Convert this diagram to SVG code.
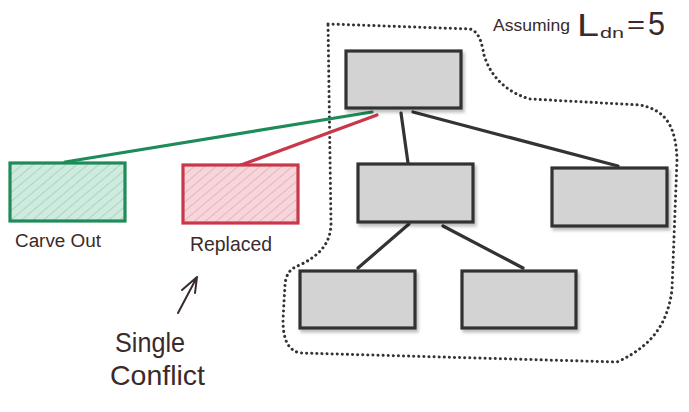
<svg xmlns="http://www.w3.org/2000/svg" width="689" height="412" viewBox="0 0 689 412">
<defs>
<pattern id="hatchG" patternUnits="userSpaceOnUse" width="7" height="7" patternTransform="rotate(50)">
<rect width="7" height="7" fill="#cfeade"/>
<line x1="0" y1="0" x2="0" y2="7" stroke="#98cfb5" stroke-width="1.4"/>
</pattern>
<pattern id="hatchR" patternUnits="userSpaceOnUse" width="7" height="7" patternTransform="rotate(50)">
<rect width="7" height="7" fill="#f6d6da"/>
<line x1="0" y1="0" x2="0" y2="7" stroke="#e6a4ad" stroke-width="1.4"/>
</pattern>
<filter id="sh" x="-10%" y="-10%" width="130%" height="140%">
<feDropShadow dx="2" dy="3" stdDeviation="1.5" flood-color="#000" flood-opacity="0.25"/>
</filter>
</defs>
<style>
.box{fill:#d4d3d4;stroke:#333;stroke-width:3.2;filter:url(#sh)}
.edge{stroke:#333;stroke-width:3.2;fill:none;stroke-linecap:round}
.hand{font-family:"Liberation Sans Narrow","Liberation Sans",sans-serif;fill:#3b2a2c}
</style>
<rect width="689" height="412" fill="#fff"/>
<path d="M328,24 L470,29 C480,32 482,45 484,55 C490,75 505,92 530,99 L640,105 C665,110 676,125 677,160 L672,290 C668,320 655,345 617,362 L300,353 C288,350 283,340 283,320 L285,285 C286,272 292,268 300,265 C318,256 330,245 331,225 Z" fill="none" stroke="#333" stroke-width="3" stroke-dasharray="0.1 5" stroke-linecap="round"/>
<g id="connectors">
<line x1="65" y1="162" x2="372" y2="112" stroke="#1e8c58" stroke-width="3.2" stroke-linecap="round"/>
<line x1="241" y1="165" x2="377" y2="115" stroke="#c8384a" stroke-width="3.2" stroke-linecap="round"/>
<line class="edge" x1="401" y1="113" x2="408" y2="163"/>
<line class="edge" x1="413" y1="112" x2="618" y2="166"/>
<line class="edge" x1="409" y1="224" x2="358" y2="268"/>
<line class="edge" x1="443" y1="226" x2="523" y2="268"/>
</g>
<g id="n-top"><rect class="box" x="346" y="51" width="115" height="57"/></g>
<g id="n-mid"><rect class="box" x="358" y="164" width="115" height="58"/></g>
<g id="n-right"><rect class="box" x="552" y="168" width="115" height="58"/></g>
<g id="n-botleft"><rect class="box" x="300" y="271" width="115" height="57"/></g>
<g id="n-botright"><rect class="box" x="462" y="271" width="114" height="57"/></g>
<g id="n-carve">
<rect x="10" y="163" width="115" height="58" fill="url(#hatchG)" stroke="#1e8c58" stroke-width="3.2"/>
<text class="hand" x="15" y="247" font-size="18" textLength="86" lengthAdjust="spacingAndGlyphs">Carve Out</text>
</g>
<g id="n-replaced">
<rect x="183" y="165" width="115" height="58" fill="url(#hatchR)" stroke="#c8384a" stroke-width="3.2"/>
<text class="hand" x="190" y="251" font-size="21" textLength="82" lengthAdjust="spacingAndGlyphs">Replaced</text>
</g>
<g id="note">
<path d="M178,313 L197,277 M182,290 L197,277 L195,293" fill="none" stroke="#3b2a2c" stroke-width="2" stroke-linecap="round" stroke-linejoin="round"/>
<text class="hand" x="115" y="352" font-size="28" textLength="70" lengthAdjust="spacingAndGlyphs">Single</text>
<text class="hand" x="110" y="385" font-size="28" textLength="95" lengthAdjust="spacingAndGlyphs">Conflict</text>
</g>
<g id="title">
<text class="hand" x="493" y="31" font-size="17" textLength="77" lengthAdjust="spacingAndGlyphs">Assuming</text>
<text class="hand" x="577" y="36" font-size="32" textLength="22" lengthAdjust="spacingAndGlyphs">L</text>
<text class="hand" x="600" y="38" font-size="15" textLength="24" lengthAdjust="spacingAndGlyphs">dn</text>
<text class="hand" x="627" y="33" font-size="26" textLength="18" lengthAdjust="spacingAndGlyphs">=</text>
<text class="hand" x="648" y="35" font-size="34" textLength="17" lengthAdjust="spacingAndGlyphs">5</text>
</g>
</svg>
